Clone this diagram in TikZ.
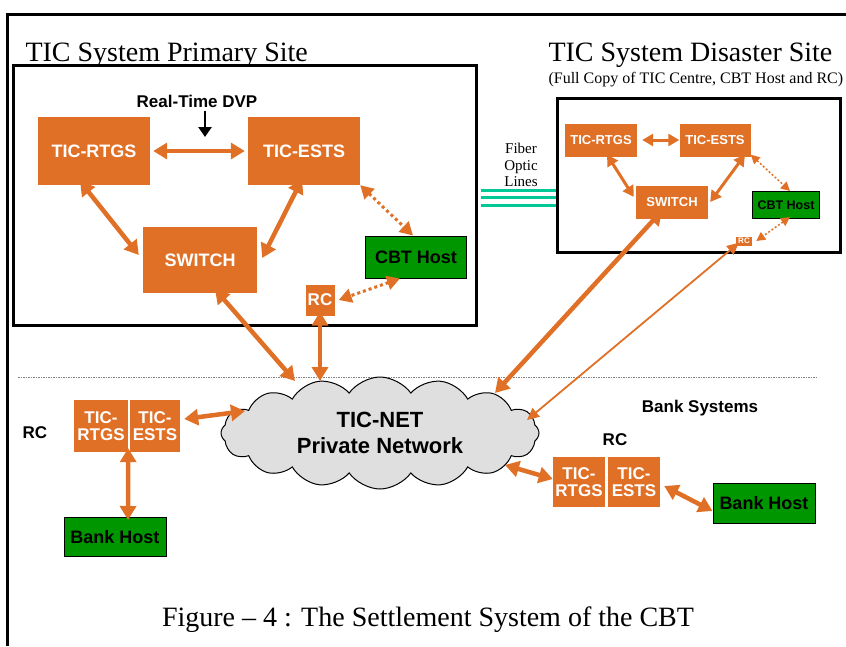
\documentclass[tikz,border=0pt]{standalone}
\usepackage{fontspec}
\setmainfont{Liberation Serif}
\setsansfont{Liberation Sans}
\usetikzlibrary{arrows.meta,shapes.symbols}
\definecolor{ticorange}{RGB}{224,112,38}
\definecolor{hostgreen}{RGB}{0,150,0}
\definecolor{fibercol}{RGB}{0,200,150}
\newcommand{\fs}[1]{\fontsize{#1}{#1}\selectfont}
\tikzset{
  ticbox/.style={fill=ticorange,text=white,font=\sffamily\bfseries,inner sep=0pt,align=center},
  hostbox/.style={fill=hostgreen,draw=black,line width=1pt,font=\sffamily\bfseries,inner sep=0pt},
  site/.style={draw=black,line width=3pt,inner sep=0pt},
  biglink/.style={ticorange,line width=4.5pt,{Triangle[length=14pt,width=16pt]}-{Triangle[length=14pt,width=16pt]}},
  midlink/.style={ticorange,line width=3pt,{Triangle[length=11pt,width=12pt]}-{Triangle[length=11pt,width=12pt]}},
  thinlink/.style={ticorange,line width=1.8pt,{Triangle[length=12pt,width=11pt]}-{Triangle[length=12pt,width=11pt]}},
  dotlink/.style={ticorange,line width=3pt,dash pattern=on 3pt off 3pt,{Triangle[length=13pt,width=14pt]}-{Triangle[length=13pt,width=14pt]}},
  smalldot/.style={ticorange,line width=1.5pt,dash pattern=on 2pt off 2pt,{Triangle[length=9pt,width=9pt]}-{Triangle[length=9pt,width=9pt]}},
  fiber/.style={fibercol,line width=3pt}
}
\begin{document}
\begin{tikzpicture}[x=1pt,y=-1pt]
  \useasboundingbox (0,0) rectangle (846,646);
  \draw[line width=3pt] (7,646) -- (7,14) -- (846,14);
  % primary site
  \node[anchor=base west,font=\fs{28}] (ptitle) at (22,61) {TIC System Primary Site};
  \node[site,minimum width=463,minimum height=260] (pbox) at (244.5,195) {};
  \node[font=\sffamily\bfseries\fs{17}] (dvp) at (197,101) {Real-Time DVP};
  \coordinate (dvpin) at (205,137);
  \draw[line width=2.5pt,-{Triangle[length=10pt,width=13pt]}] ([xshift=8]dvp.south) -- (dvpin);
  \node[ticbox,minimum width=112,minimum height=68,font=\sffamily\bfseries\fs{18}] (prtgs) at (94,151) {TIC-RTGS};
  \node[ticbox,minimum width=112,minimum height=68,font=\sffamily\bfseries\fs{18}] (pests) at (304,151) {TIC-ESTS};
  \node[ticbox,minimum width=114,minimum height=66,font=\sffamily\bfseries\fs{18}] (pswitch) at (200,260) {SWITCH};
  \node[hostbox,minimum width=101,minimum height=42,font=\sffamily\bfseries\fs{18}] (pcbt) at (416,257) {CBT Host};
  \node[ticbox,minimum width=29,minimum height=31,font=\sffamily\bfseries\fs{17}] (prc) at (320,300) {RC};
  \draw[biglink] ([xshift=3]prtgs.east) -- ([xshift=-3]pests.west);
  \draw[biglink] ([xshift=-14,yshift=4]prtgs.south) -- ([shift={(-4,-5)}]pswitch.west);
  \draw[biglink] ([xshift=-2,yshift=6]pests.south) -- ([shift={(5,-2)}]pswitch.east);
  \draw[dotlink] (pests.south east) -- ([xshift=-3]pcbt.north);
  \draw[dotlink] ([xshift=-16]pcbt.south) -- ([xshift=4]prc.east);
  % disaster site
  \node[anchor=base west,font=\fs{28}] (dtitle) at (545,61) {TIC System Disaster Site};
  \node[anchor=base west,font=\fs{16}] (dsub) at (545,83) {(Full Copy of TIC Centre, CBT Host and RC)};
  \node[site,minimum width=283,minimum height=154] (dbox) at (698.5,175) {};
  \node[ticbox,minimum width=72,minimum height=33,font=\sffamily\bfseries\fs{13}] (drtgs) at (601,140) {TIC-RTGS};
  \node[ticbox,minimum width=71,minimum height=33,font=\sffamily\bfseries\fs{13}] (dests) at (715,140) {TIC-ESTS};
  \node[ticbox,minimum width=72,minimum height=33,font=\sffamily\bfseries\fs{13}] (dswitch) at (672,202) {SWITCH};
  \node[hostbox,minimum width=67,minimum height=27,font=\sffamily\bfseries\fs{12.5}] (dcbt) at (786,205) {CBT Host};
  \node[ticbox,minimum width=16,minimum height=9,font=\sffamily\bfseries\fs{8}] (drc) at (744,241) {RC};
  \draw[midlink] ([xshift=5]drtgs.east) -- (dests.west);
  \draw[midlink] ([xshift=6,yshift=2]drtgs.south) -- ([shift={(-2,-5)}]dswitch.west);
  \draw[midlink] ([xshift=30,yshift=2]dests.south) -- ([xshift=2]dswitch.east);
  \draw[smalldot] ([yshift=2]dests.south east) -- ([xshift=4]dcbt.north);
  \draw[smalldot] ([xshift=4,yshift=2]dcbt.south) -- ([xshift=4]drc.east);
  % fiber optic lines
  \node[align=center,font=\fontsize{15}{16.5}\selectfont,inner sep=0pt] (fibertxt) at (521,165) {Fiber\\Optic\\Lines};
  \foreach \y in {190,197,205}
    \draw[fiber] ([xshift=3]pbox.east |- 0,\y) -- (dbox.west |- 0,\y);
  % network
  \draw[gray,line width=0.7pt,dash pattern=on 1.5pt off 1pt] (18,377) -- (817,377);
  \node[cloud,cloud puffs=16,cloud puff arc=110,aspect=2.9,minimum width=318,minimum height=112,
        draw=black,line width=1pt,fill=gray!25,align=center,font=\sffamily\bfseries\fs{22},inner sep=0pt] (net) at (380,433)
        {TIC-NET\\[4pt]Private Network};
  \draw[biglink] ([xshift=15,yshift=4]pswitch.south) -- ([shift={(-85,-52)}]net.center);
  \draw[biglink] ([yshift=4]prc.south) -- ([shift={(-60,-52)}]net.center);
  \draw[biglink] ([shift={(115,-40)}]net.center) -- ([xshift=-10,yshift=8]dswitch.south);
  \draw[thinlink] ([shift={(147,-13)}]net.center) -- ([xshift=-5,yshift=3]drc.south);
  % bank systems
  \node[font=\sffamily\bfseries\fs{17}] (lrc) at (35,433) {RC};
  \node[ticbox,minimum width=54,minimum height=52,font=\sffamily\bfseries\fs{17}] (lrtgs) at (101,426) {TIC-\\RTGS};
  \node[ticbox,minimum width=50,minimum height=52,font=\sffamily\bfseries\fs{17}] (lests) at (155,426) {TIC-\\ESTS};
  \node[hostbox,minimum width=102,minimum height=39,font=\sffamily\bfseries\fs{18}] (lbank) at (115,537) {Bank Host};
  \draw[biglink] ([xshift=4,yshift=7]lests.east) -- ([shift={(-135,-22)}]net.center);
  \draw[biglink] ([yshift=4]lrtgs.south east) -- ([xshift=13,yshift=-3]lbank.north);
  \node[font=\sffamily\bfseries\fs{17}] (banksys) at (700,408) {Bank Systems};
  \node[font=\sffamily\bfseries\fs{17}] (rrc) at (615,440) {RC};
  \node[ticbox,minimum width=52,minimum height=50,font=\sffamily\bfseries\fs{17}] (rrtgs) at (579,482) {TIC-\\RTGS};
  \node[ticbox,minimum width=52,minimum height=50,font=\sffamily\bfseries\fs{17}] (rests) at (634,482) {TIC-\\ESTS};
  \node[hostbox,minimum width=102,minimum height=40,font=\sffamily\bfseries\fs{18}] (rbank) at (764,503) {Bank Host};
  \draw[biglink] ([shift={(125,32)}]net.center) -- ([yshift=3]rrtgs.west);
  \draw[biglink] ([xshift=4,yshift=-4]rests.east) -- ([yshift=-8]rbank.west);
  % caption
  \node[font=\fs{28}] (caption) at (428,620) {Figure -- 4 : The Settlement System of the CBT};
\end{tikzpicture}
\end{document}
